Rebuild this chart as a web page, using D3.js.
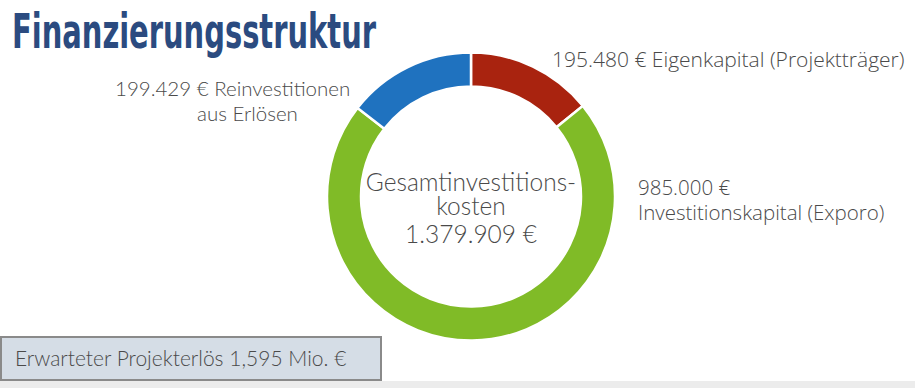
<!DOCTYPE html>
<html>
<head>
<meta charset="utf-8">
<script src="https://cdn.jsdelivr.net/npm/d3@7"></script>
<style>
  body { margin: 0; background: #fff; }
  svg { display: block; }
</style>
</head>
<body>
<div id="chart"></div>
<script>
// data
var segments = ["Eigenkapital", "Investitionskapital", "Reinvestitionen"];
var amounts = [195480, 985000, 199429];
var colors = ["#a9230f", "#80bb27", "#1f72bf"];
var labelLines = [
    ["195.480 € Eigenkapital (Projektträger)"],
    ["985.000 €", "Investitionskapital (Exporo)"],
    ["199.429 € Reinvestitionen", "aus Erlösen"]
];
var centerLines = ["Gesamtinvestitions-", "kosten", "1.379.909 €"];
var title = "Finanzierungsstruktur";
var footNote = "Erwarteter Projekterlös 1,595 Mio. €";

var svgWidth = 915;
var svgHeight = 388;

var svg = d3.select("#chart")
    .append("svg")
    .attr("width", svgWidth)
    .attr("height", svgHeight);

// bottom strip
svg.append("rect")
    .attr("x", 0).attr("y", 381)
    .attr("width", svgWidth).attr("height", 7)
    .attr("fill", "#ececec");

// title
svg.append("text")
    .attr("x", 12)
    .attr("y", 48)
    .attr("textLength", 364)
    .attr("lengthAdjust", "spacingAndGlyphs")
    .style("font-family", "'Liberation Sans Narrow', 'DejaVu Sans Condensed', sans-serif")
    .style("font-weight", "bold")
    .style("font-size", "48px")
    .attr("fill", "#2b4b80")
    .text(title);

// donut
var cx = 471, cy = 196.5;
var outerR = 144, innerR = 110;

var pie = d3.pie().sort(null).value(d => d);
var arc = d3.arc().innerRadius(innerR).outerRadius(outerR);

var donut = svg.append("g")
    .attr("transform", `translate(${cx},${cy})`);

donut.selectAll("path")
    .data(pie(amounts))
    .enter()
    .append("path")
    .attr("d", arc)
    .attr("fill", (d, i) => colors[i])
    .attr("stroke", "#fff")
    .attr("stroke-width", 2.5);

// center text
var centerY = [-6, 18, 46];
donut.append("g")
    .selectAll("text")
    .data(centerLines)
    .enter()
    .append("text")
    .attr("text-anchor", "middle")
    .style("font-family", "Lato, sans-serif")
    .style("font-weight", 300)
    .style("font-size", "24.5px")
    .attr("fill", "#4a4a4a")
    .attr("x", 0)
    .attr("y", (d, i) => centerY[i])
    .text(d => d);

// segment labels
var labelPos = [
    {x: 552, y: 67, font: "'Open Sans', sans-serif", size: 21, offs: [0]},
    {x: 638, y: 195, font: "'Open Sans', sans-serif", size: 20.5, offs: [0]},
    {x: 115, y: 96, font: "Lato, sans-serif", size: 20.5, offs: [0, 82]}
];

labelLines.forEach(function(lines, i) {
    var p = labelPos[i];
    lines.forEach(function(line, j) {
        svg.append("text")
            .style("font-family", p.font)
            .style("font-weight", 300)
            .style("font-size", p.size + "px")
            .attr("fill", "#4a4a4a")
            .attr("x", p.x + (p.offs[j] || 0))
            .attr("y", p.y + j * 25)
            .text(line);
    });
});

// footnote box
svg.append("rect")
    .attr("x", 1).attr("y", 337)
    .attr("width", 380).attr("height", 43)
    .attr("fill", "#d5dde6")
    .attr("stroke", "#8a8a8a")
    .attr("stroke-width", 2);

svg.append("text")
    .attr("x", 15)
    .attr("y", 366)
    .style("font-family", "Lato, sans-serif")
    .style("font-weight", 300)
    .style("font-size", "21px")
    .attr("fill", "#4a4a4a")
    .text(footNote);
</script>
</body>
</html>
